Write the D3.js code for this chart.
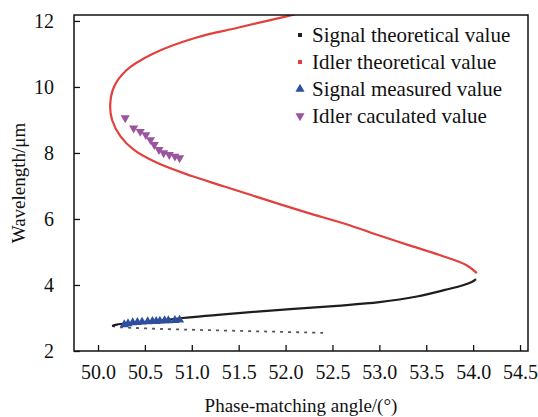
<!DOCTYPE html>
<html>
<head>
<meta charset="utf-8">
<script src="https://cdn.jsdelivr.net/npm/d3@7"></script>
<style>
html,body{margin:0;padding:0;background:#fff;}
svg{display:block;font-family:"Liberation Serif","Times New Roman",serif;}
</style>
</head>
<body>
<svg id="chart" width="538" height="417"></svg>
<script>
// ---- data ----
const signalUpperLambda = [2.76, 2.80, 2.85, 2.92, 3.00, 3.15, 3.27, 3.37, 3.48, 3.65, 3.85, 4.00, 4.10, 4.18];
const signalUpperAngle  = [50.15, 50.20, 50.40, 50.65, 50.90, 51.50, 52.05, 52.55, 53.00, 53.40, 53.70, 53.90, 53.99, 54.03];
const signalLowerLambda = [2.55, 2.58, 2.61, 2.64, 2.67, 2.70, 2.73, 2.76];
const signalLowerAngle  = [52.40, 51.95, 51.50, 51.05, 50.65, 50.38, 50.20, 50.15];
const idlerLambda = [4.36, 4.6, 4.9, 5.2, 5.5, 5.85, 6.2, 6.6, 7.0, 7.3, 7.7, 8.1, 8.5, 9.0, 9.45, 10.0, 10.5, 11.0, 11.5, 11.8, 12.2];
const idlerAngle  = [54.04, 53.93, 53.65, 53.32, 53.00, 52.64, 52.22, 51.77, 51.33, 51.00, 50.63, 50.38, 50.24, 50.15, 50.13, 50.17, 50.30, 50.58, 51.05, 51.50, 52.10];
const signalMeasAngle  = [50.28, 50.32, 50.37, 50.42, 50.47, 50.53, 50.58, 50.62, 50.66, 50.71, 50.75, 50.82, 50.87];
const signalMeasLambda = [2.80, 2.83, 2.86, 2.87, 2.88, 2.89, 2.90, 2.90, 2.91, 2.92, 2.92, 2.93, 2.94];
const idlerCalcAngle  = [50.29, 50.38, 50.45, 50.51, 50.56, 50.60, 50.65, 50.70, 50.76, 50.82, 50.87];
const idlerCalcLambda = [9.06, 8.75, 8.65, 8.55, 8.40, 8.25, 8.10, 8.00, 7.95, 7.90, 7.85];
const xTicks = [50.0, 50.5, 51.0, 51.5, 52.0, 52.5, 53.0, 53.5, 54.0, 54.5];
const yTicks = [2, 4, 6, 8, 10, 12];
const legendLabels = ["Signal theoretical value", "Idler theoretical value", "Signal measured value", "Idler caculated value"];

// ---- layout ----
const svg = d3.select("#chart");
const L = 74, R = 528, T = 15, B = 351;
const x = d3.scaleLinear().domain([49.744, 54.585]).range([L, R]);
const y = d3.scaleLinear().domain([2, 12.18]).range([B, T]);

const colBlack = "#1e1e1e", colRed = "#e2403c", colBlue = "#2e4f9e", colPurple = "#9a559e";

svg.append("defs").append("clipPath").attr("id","clip")
  .append("rect").attr("x",L).attr("y",T).attr("width",R-L).attr("height",B-T);

const g = svg.append("g").attr("clip-path","url(#clip)");
const line = d3.line().x(d=>x(d[0])).y(d=>y(d[1])).curve(d3.curveCatmullRom);

const sigUp = signalUpperAngle.map((a,i)=>[a, signalUpperLambda[i]]);
const sigLo = signalLowerAngle.map((a,i)=>[a, signalLowerLambda[i]]);
const idl = idlerAngle.map((a,i)=>[a, idlerLambda[i]]);

g.append("path").attr("d", line(idl)).attr("fill","none").attr("stroke",colRed).attr("stroke-width",2.2);
g.append("path").attr("d", line(sigUp)).attr("fill","none").attr("stroke",colBlack).attr("stroke-width",2.2);
g.append("path").attr("d", line(sigLo)).attr("fill","none").attr("stroke",colBlack).attr("stroke-width",1.8)
  .attr("stroke-dasharray","3,5").attr("opacity",0.75);

const triUp = d3.symbol().type(d3.symbolTriangle).size(36);
g.selectAll(".sm").data(signalMeasAngle.map((a,i)=>[a, signalMeasLambda[i]])).enter()
  .append("path").attr("d", triUp).attr("fill", colBlue)
  .attr("transform", d=>`translate(${x(d[0])},${y(d[1])})`);
g.selectAll(".ic").data(idlerCalcAngle.map((a,i)=>[a, idlerCalcLambda[i]])).enter()
  .append("path").attr("d", triUp).attr("fill", colPurple)
  .attr("transform", d=>`translate(${x(d[0])},${y(d[1])}) rotate(180)`);

// ---- axes ----
const xAxis = d3.axisBottom(x).tickValues(xTicks).tickFormat(d3.format(".1f")).tickSizeInner(-6).tickSizeOuter(0).tickPadding(14);
const yAxis = d3.axisLeft(y).tickValues(yTicks).tickFormat(d3.format("d")).tickSizeInner(-6).tickSizeOuter(0).tickPadding(20);
const gx = svg.append("g").attr("transform",`translate(0,${B})`).call(xAxis);
const gy = svg.append("g").attr("transform",`translate(${L},0)`).call(yAxis);
[gx, gy].forEach(a=>{
  a.select(".domain").remove();
  a.selectAll("line").attr("stroke","#111").attr("stroke-width",1.3);
  a.selectAll("text").attr("fill","#111").style("font-size","20px").style("font-family","Liberation Serif, serif");
});
svg.append("rect").attr("x",L).attr("y",T).attr("width",R-L).attr("height",B-T)
  .attr("fill","none").attr("stroke","#111").attr("stroke-width",1.5);

svg.append("text").attr("x",(L+R)/2).attr("y",412).attr("text-anchor","middle")
  .style("font-size","19px").attr("fill","#111").text("Phase-matching angle/(°)");
svg.append("text").attr("transform",`translate(25,${(T+B)/2}) rotate(-90)`).attr("text-anchor","middle")
  .style("font-size","19px").attr("fill","#111").text("Wavelength/μm");

// ---- legend ----
const legY = [35, 62, 89, 116];
const lg = svg.append("g");
legendLabels.forEach((t,i)=>{
  const cy = legY[i];
  if (i===0) lg.append("rect").attr("x",298).attr("y",cy-2).attr("width",4).attr("height",4).attr("fill",colBlack);
  if (i===1) lg.append("rect").attr("x",298).attr("y",cy-2).attr("width",4).attr("height",4).attr("fill",colRed);
  if (i===2) lg.append("path").attr("d",triUp).attr("fill",colBlue).attr("transform",`translate(300,${cy})`);
  if (i===3) lg.append("path").attr("d",triUp).attr("fill",colPurple).attr("transform",`translate(300,${cy}) rotate(180)`);
  lg.append("text").attr("x",312).attr("y",cy).attr("dy","0.35em").style("font-size","21px").attr("fill","#111").text(t);
});
</script>
</body>
</html>
